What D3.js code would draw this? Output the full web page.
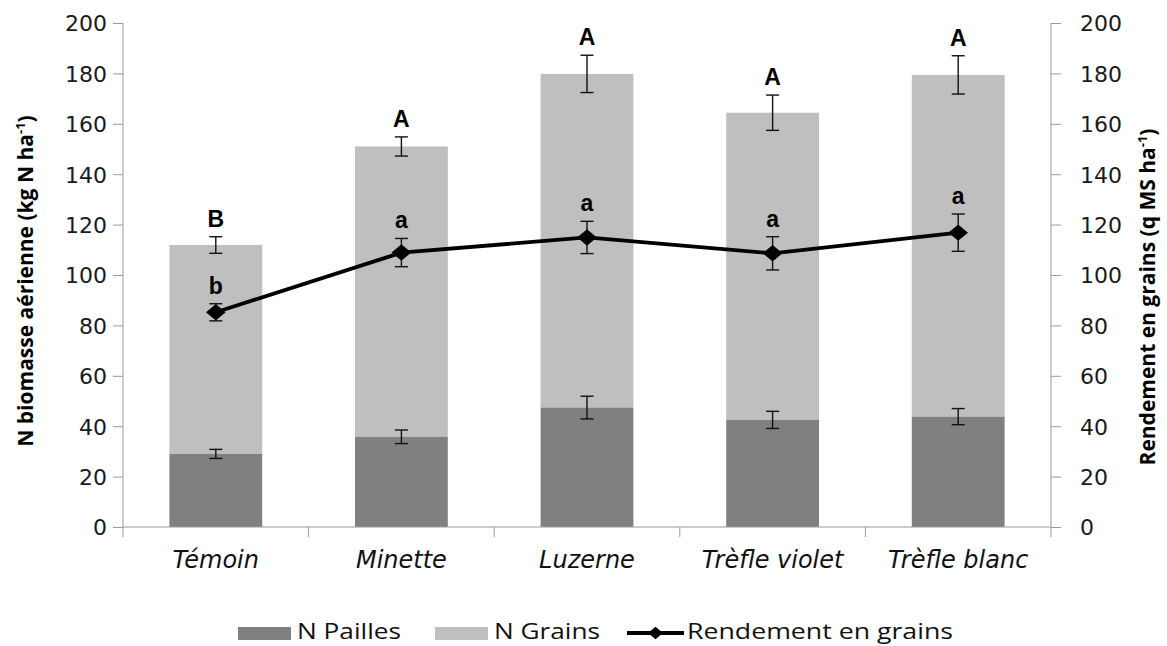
<!DOCTYPE html>
<html>
<head>
<meta charset="utf-8">
<script src="https://cdnjs.cloudflare.com/ajax/libs/d3/7.8.5/d3.min.js"></script>
<style>
  body { margin: 0; background: #fff; }
  .tick text { font-family: "DejaVu Sans", sans-serif; fill: #1a1a1a; }
</style>
</head>
<body>
<script>
// categories and values
var categories = ["Témoin", "Minette", "Luzerne", "Trèfle violet", "Trèfle blanc"];
var nPailles = [29, 35.8, 47.4, 42.5, 43.8];
var nPaillesErr = [1.8, 2.7, 4.5, 3.4, 3.2];
var nTotal = [111.9, 151, 179.8, 164.4, 179.4];
var nTotalErr = [3.3, 3.8, 7.4, 7, 7.6];
var rendement = [85.2, 108.9, 114.9, 108.6, 116.8];
var rendementErr = [3.4, 5.6, 6.4, 6.6, 7.4];
var lettersN = ["B", "A", "A", "A", "A"];
var lettersR = ["b", "a", "a", "a", "a"];
var yTicks = [0, 20, 40, 60, 80, 100, 120, 140, 160, 180, 200];

var width = 1167;
var height = 646;
var padL = 123, padR = 1051, padT = 23, padB = 527;

var svg = d3.select("body").append("svg").attr("width", width).attr("height", height);

var x = d3.scaleBand().domain(categories).range([padL, padR]).paddingInner(0.5).paddingOuter(0.25);
var xOuter = d3.scaleBand().domain(categories).range([padL, padR]);
var y = d3.scaleLinear().domain([0, 200]).range([padB, padT]);
var y2 = d3.scaleLinear().domain([0, 200]).range([padB, padT]);

var axisColor = "#9a9a9a";

var data = categories.map(function (c, i) {
    return { cat: c, p: nPailles[i], pe: nPaillesErr[i], t: nTotal[i], te: nTotalErr[i],
             r: rendement[i], re: rendementErr[i], ln: lettersN[i], lr: lettersR[i] };
});

// stacked bars
svg.selectAll("rect.grains").data(data).enter().append("rect").attr("class", "grains")
    .attr("x", function (d) { return x(d.cat); })
    .attr("width", x.bandwidth())
    .attr("y", function (d) { return y(d.t); })
    .attr("height", function (d) { return y(d.p) - y(d.t); })
    .attr("fill", "#bfbfbf");

svg.selectAll("rect.pailles").data(data).enter().append("rect").attr("class", "pailles")
    .attr("x", function (d) { return x(d.cat); })
    .attr("width", x.bandwidth())
    .attr("y", function (d) { return y(d.p); })
    .attr("height", function (d) { return y(0) - y(d.p); })
    .attr("fill", "#808080");

// error bars
function errorBars(cls, val, err, scale, cap) {
    var g = svg.append("g").attr("class", cls).attr("stroke", "#111").attr("stroke-width", 1.4);
    data.forEach(function (d) {
        var cx = x(d.cat) + x.bandwidth() / 2;
        var y0 = scale(d[val] - d[err]), y1 = scale(d[val] + d[err]);
        g.append("line").attr("x1", cx).attr("x2", cx).attr("y1", y0).attr("y2", y1);
        g.append("line").attr("x1", cx - cap).attr("x2", cx + cap).attr("y1", y0).attr("y2", y0);
        g.append("line").attr("x1", cx - cap).attr("x2", cx + cap).attr("y1", y1).attr("y2", y1);
    });
}
errorBars("err-p", "p", "pe", y, 6.5);
errorBars("err-t", "t", "te", y, 6.5);

// axes
var yAxis = d3.axisLeft(y).tickValues(yTicks).tickSize(10).tickPadding(6);
var y2Axis = d3.axisRight(y2).tickValues(yTicks).tickSize(10).tickPadding(18);

var gy = svg.append("g").attr("transform", "translate(" + padL + ",0)").call(yAxis);
var gy2 = svg.append("g").attr("transform", "translate(" + padR + ",0)").call(y2Axis);
[gy, gy2].forEach(function (g) {
    g.select(".domain").attr("stroke", axisColor).attr("d", "M0," + padT + "V" + (padB + 10));
    g.selectAll(".tick line").attr("stroke", axisColor);
    g.selectAll(".tick text").style("font-size", "22px").attr("dy", "0.36em");
});
gy2.selectAll(".tick text").attr("x", 29);

// x axis baseline and category separators
svg.append("line").attr("x1", padL).attr("x2", padR).attr("y1", padB).attr("y2", padB)
    .attr("stroke", axisColor);
svg.selectAll("line.sep").data(categories.slice(1)).enter().append("line").attr("class", "sep")
    .attr("x1", function (d) { return xOuter(d); }).attr("x2", function (d) { return xOuter(d); })
    .attr("y1", padB).attr("y2", padB + 10).attr("stroke", axisColor);

svg.selectAll("text.cat").data(categories).enter().append("text").attr("class", "cat")
    .attr("x", function (d) { return x(d) + x.bandwidth() / 2; })
    .attr("y", 568)
    .attr("text-anchor", "middle")
    .style("font-family", "DejaVu Sans, sans-serif")
    .style("font-style", "italic")
    .style("font-size", "24px")
    .attr("fill", "#111")
    .text(function (d) { return d; });

// rendement line
var line = d3.line()
    .x(function (d) { return x(d.cat) + x.bandwidth() / 2; })
    .y(function (d) { return y2(d.r); });
svg.append("path").datum(data).attr("d", line).attr("fill", "none")
    .attr("stroke", "#000").attr("stroke-width", 3.8);
errorBars("err-r", "r", "re", y2, 6.5);
svg.selectAll("path.diamond").data(data).enter().append("path").attr("class", "diamond")
    .attr("d", d3.symbol().type(d3.symbolDiamond2).size(165))
    .attr("transform", function (d) {
        return "translate(" + (x(d.cat) + x.bandwidth() / 2) + "," + y2(d.r) + ") scale(1.22,1.02)";
    })
    .attr("fill", "#000");

// significance letters
svg.selectAll("text.ln").data(data).enter().append("text").attr("class", "ln")
    .attr("x", function (d) { return x(d.cat) + x.bandwidth() / 2; })
    .attr("y", function (d) { return y(d.t + d.te) - 10; })
    .attr("text-anchor", "middle")
    .style("font-family", "Liberation Sans, Arial, sans-serif")
    .style("font-weight", "bold").style("font-size", "23px")
    .text(function (d) { return d.ln; });
svg.selectAll("text.lr").data(data).enter().append("text").attr("class", "lr")
    .attr("x", function (d) { return x(d.cat) + x.bandwidth() / 2; })
    .attr("y", function (d) { return y2(d.r + d.re) - 10; })
    .attr("text-anchor", "middle")
    .style("font-family", "Liberation Sans, Arial, sans-serif")
    .style("font-weight", "bold").style("font-size", "23px")
    .text(function (d) { return d.lr; });

// axis titles
function title(xPos, yPos, main) {
    var t = svg.append("text")
        .attr("transform", "translate(" + xPos + "," + yPos + ") rotate(-90)")
        .attr("text-anchor", "middle")
        .style("font-family", "Open Sans, sans-serif")
        .style("font-weight", "bold").style("font-size", "21px")
        .attr("fill", "#000");
    t.append("tspan").text(main);
    t.append("tspan").attr("dy", -8).style("font-size", "13px").text("-1");
    t.append("tspan").attr("dy", 8).text(")");
}
title(33, 281, "N biomasse aérienne (kg N ha");
title(1155, 297, "Rendement en grains (q MS ha");

// legend
var legend = [
    { label: "N Pailles", type: "rect", color: "#808080", x: 238, w: 104 },
    { label: "N Grains", type: "rect", color: "#bfbfbf", x: 435, w: 106 },
    { label: "Rendement en grains", type: "line", color: "#000", x: 627, w: 266 }
];
var lg = svg.append("g").attr("transform", "translate(0,633)");
legend.forEach(function (d) {
    if (d.type === "rect") {
        lg.append("rect").attr("x", d.x).attr("y", -6).attr("width", 53).attr("height", 13).attr("fill", d.color);
    } else {
        lg.append("line").attr("x1", d.x).attr("x2", d.x + 57).attr("y1", 0).attr("y2", 0)
            .attr("stroke", "#000").attr("stroke-width", 3.8);
        lg.append("path").attr("d", d3.symbol().type(d3.symbolDiamond2).size(100))
            .attr("transform", "translate(" + (d.x + 28.5) + ",0) scale(1.2,1)");
    }
    lg.append("text").attr("x", d.type === "rect" ? d.x + 59 : d.x + 60).attr("y", 6)
        .attr("textLength", d.w).attr("lengthAdjust", "spacingAndGlyphs")
        .style("font-family", "Open Sans, sans-serif").style("font-size", "22px")
        .attr("fill", "#111").text(d.label);
});
</script>
</body>
</html>
